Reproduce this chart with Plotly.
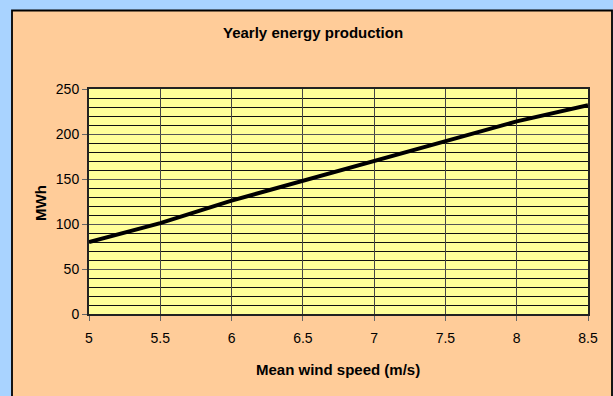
import plotly.graph_objects as go

wind_speed = [5, 5.5, 6, 6.5, 7, 7.5, 8, 8.5]
energy_mwh = [80, 101, 126, 148, 171, 193, 214, 232]
x_ticks = [5, 5.5, 6, 6.5, 7, 7.5, 8, 8.5]
x_tick_labels = ["5", "5.5", "6", "6.5", "7", "7.5", "8", "8.5"]
y_ticks = [0, 50, 100, 150, 200, 250]

W, H = 613, 396
L, R, T, B = 89, 588, 89, 314
pw, ph = R - L, B - T

def px2x(px):
    return (px - L) / pw

def py2y(py):
    return (B - py) / ph

font = "Liberation Sans, Arial, sans-serif"

fig = go.Figure()
fig.add_trace(go.Scatter(x=wind_speed, y=energy_mwh, mode="lines",
                         line=dict(color="black", width=4), showlegend=False))

fig.update_layout(
    width=W, height=H,
    margin=dict(l=L, r=W - R, t=T, b=H - B),
    paper_bgcolor="#a9d3ff",
    plot_bgcolor="rgba(0,0,0,0)",
    font=dict(family=font, size=12, color="black"),
    shapes=[
        dict(type="rect", xref="paper", yref="paper", layer="below",
             x0=px2x(12), x1=px2x(612), y0=py2y(398), y1=py2y(10.5),
             fillcolor="#ffcc99", line=dict(color="black", width=1.8)),
        dict(type="rect", xref="paper", yref="paper", layer="below",
             x0=0, x1=1, y0=0, y1=1,
             fillcolor="#ffff99", line=dict(width=0)),
    ],
    annotations=[
        dict(text="<b>Yearly energy production</b>", xref="paper", yref="paper",
             x=px2x(313), y=py2y(33), xanchor="center", yanchor="middle",
             showarrow=False, font=dict(size=15)),
        dict(text="<b>Mean wind speed (m/s)</b>", xref="paper", yref="paper",
             x=px2x(338), y=py2y(369), xanchor="center", yanchor="middle",
             showarrow=False, font=dict(size=15)),
        dict(text="<b>MWh</b>", xref="paper", yref="paper", textangle=-90,
             x=px2x(40), y=py2y(203), xanchor="center", yanchor="middle",
             showarrow=False, font=dict(size=15)),
    ],
)

fig.update_xaxes(
    range=[5, 8.5], tickvals=x_ticks, ticktext=x_tick_labels,
    showgrid=True, gridcolor="#444444", gridwidth=1,
    ticks="outside", ticklen=5, tickcolor="#666666",
    showline=True, linecolor="#222222", linewidth=2, mirror=True,
    zeroline=False, tickfont=dict(size=14), ticklabelstandoff=5,
)
fig.update_yaxes(
    range=[0, 250], tickvals=y_ticks,
    showgrid=True, gridcolor="#555555", gridwidth=1,
    minor=dict(dtick=10, showgrid=True, gridcolor="#111111", gridwidth=1),
    ticks="outside", ticklen=5, tickcolor="#666666",
    showline=True, linecolor="#222222", linewidth=2, mirror=True,
    zeroline=False, tickfont=dict(size=14),
)

fig.write_html(
    "out.html",
    config={"displayModeBar": False},
    post_script="document.body.style.margin='0';document.body.style.overflow='hidden';document.body.style.background='#a9d3ff';",
)
